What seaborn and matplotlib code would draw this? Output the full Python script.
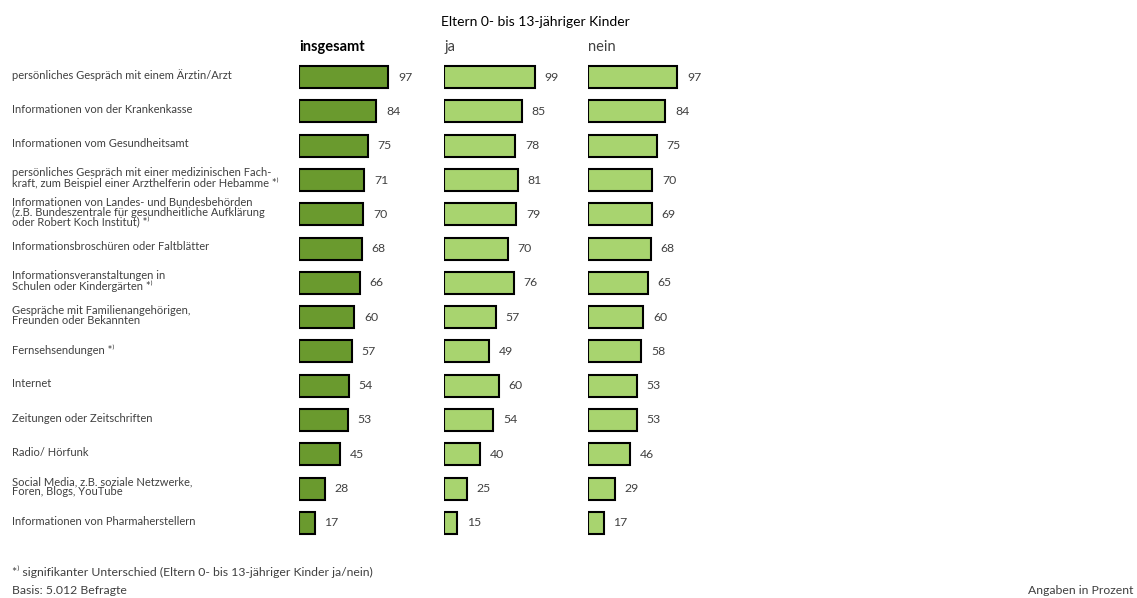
import matplotlib
matplotlib.use("Agg")
import matplotlib.pyplot as plt
import matplotlib.transforms as mtransforms
import seaborn as sns
import pandas as pd

sns.set_theme(style="white")
plt.rcParams['font.family'] = ['Lato', 'DejaVu Sans']

categories = [
    "persönliches Gespräch mit einem Ärztin/Arzt",
    "Informationen von der Krankenkasse",
    "Informationen vom Gesundheitsamt",
    "persönliches Gespräch mit einer medizinischen Fach-\nkraft, zum Beispiel einer Arzthelferin oder Hebamme *⁾",
    "Informationen von Landes- und Bundesbehörden\n(z.B. Bundeszentrale für gesundheitliche Aufklärung\noder Robert Koch Institut) *⁾",
    "Informationsbroschüren oder Faltblätter",
    "Informationsveranstaltungen in\nSchulen oder Kindergärten *⁾",
    "Gespräche mit Familienangehörigen,\nFreunden oder Bekannten",
    "Fernsehsendungen *⁾",
    "Internet",
    "Zeitungen oder Zeitschriften",
    "Radio/ Hörfunk",
    "Social Media, z.B. soziale Netzwerke,\nForen, Blogs, YouTube",
    "Informationen von Pharmaherstellern",
]
insgesamt = [97, 84, 75, 71, 70, 68, 66, 60, 57, 54, 53, 45, 28, 17]
ja = [99, 85, 78, 81, 79, 70, 76, 57, 49, 60, 54, 40, 25, 15]
nein = [97, 84, 75, 70, 69, 68, 65, 60, 58, 53, 53, 46, 29, 17]
panel_titles = ["insgesamt", "ja", "nein"]
group_title = "Eltern 0- bis 13-jähriger Kinder"

W, H = 1137, 598
fig = plt.figure(figsize=(W / 100, H / 100), dpi=100)

series = [insgesamt, ja, nein]
colors = ["#6a9a2e", "#a8d46f", "#a8d46f"]
lefts = [299, 443.5, 588]
top_px, bot_px = 60, 540
ax_w = 140

axes = []
for i, (vals, col, lx) in enumerate(zip(series, colors, lefts)):
    ax = fig.add_axes([lx / W, 1 - bot_px / H, ax_w / W, (bot_px - top_px) / H])
    df = pd.DataFrame({"cat": [str(k) for k in range(len(categories))], "val": vals})
    sns.barplot(data=df, x="val", y="cat", orient="h", color=col, edgecolor="black",
                linewidth=1.5, width=0.64, saturation=1, ax=ax)
    ax.set_xlim(0, 152)
    ax.set_ylim(len(categories) - 0.5, -0.5)
    ax.axis("off")
    for c in ax.containers:
        ax.bar_label(c, labels=[str(v) for v in vals], padding=7, fontsize=8.8, color="#404040")
    axes.append(ax)

# row labels
trans = mtransforms.blended_transform_factory(fig.transFigure, axes[0].transData)
for k, lab in enumerate(categories):
    axes[0].text(12 / W, k - 0.05, lab, transform=trans, ha="left", va="center",
                 fontsize=8.0, color="#404040", linespacing=0.92, clip_on=False)

# headers
fig.text(299 / W, 1 - 47 / H, panel_titles[0], fontsize=10.5, fontweight="bold", color="black", va="center", ha="left")
fig.text(444 / W, 1 - 47 / H, panel_titles[1], fontsize=10.5, color="#404040", va="center", ha="left")
fig.text(588 / W, 1 - 47 / H, panel_titles[2], fontsize=10.5, color="#404040", va="center", ha="left")
fig.text(441 / W, 1 - 22 / H, group_title, fontsize=10, color="black", va="center", ha="left")

# footer
fig.text(12 / W, 1 - 572 / H, "*⁾ signifikanter Unterschied (Eltern 0- bis 13-jähriger Kinder ja/nein)",
         fontsize=8.8, color="#404040", va="center", ha="left")
fig.text(12 / W, 1 - 591 / H, "Basis: 5.012 Befragte", fontsize=8.8, color="#404040", va="center", ha="left")
fig.text(1133 / W, 1 - 591 / H, "Angaben in Prozent", fontsize=8.8, color="#404040", va="center", ha="right")

fig.savefig("out.png", dpi=100)
